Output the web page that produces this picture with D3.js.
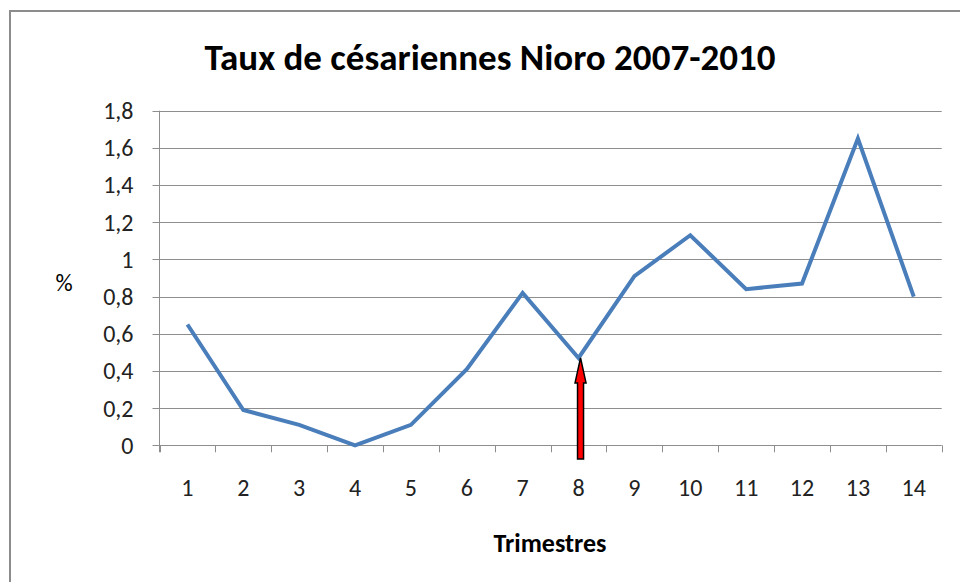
<!DOCTYPE html>
<html><head><meta charset="utf-8">
<script src="https://cdn.jsdelivr.net/npm/d3@7"></script>
<style>body{margin:0;background:#fff;}svg{display:block;}</style>
</head><body>
<svg id="chart" width="960" height="582"></svg>
<script>
const trimestres = [1,2,3,4,5,6,7,8,9,10,11,12,13,14];
const taux = [0.65,0.19,0.11,0.00,0.11,0.41,0.82,0.47,0.91,1.13,0.84,0.87,1.65,0.80];
const yTicks = [0,0.2,0.4,0.6,0.8,1.0,1.2,1.4,1.6,1.8];
const title = "Taux de césariennes Nioro 2007-2010";
const xTitle = "Trimestres";
const yTitle = "%";
const arrowAt = 8;

const FONT = "Carlito, Lato, 'Open Sans', sans-serif";
const svg = d3.select("#chart");
const m = {left:159.5, right:941.7, top:110.7, bottom:445.3};

// outer frame
svg.append("rect").attr("x",10).attr("y",11).attr("width",970).attr("height",600)
  .attr("fill","none").attr("stroke","#8c8c8c").attr("stroke-width",2);

const x = d3.scaleBand().domain(trimestres).range([m.left,m.right]).padding(0);
const y = d3.scaleLinear().domain([0,1.8]).range([m.bottom,m.top]);

// gridlines
svg.append("g").selectAll("line").data(yTicks).join("line")
  .attr("x1",m.left-7).attr("x2",m.right)
  .attr("y1",d=>Math.round(y(d))+0.5).attr("y2",d=>Math.round(y(d))+0.5)
  .attr("stroke","#8e8e8e").attr("stroke-width",1);

// y axis line
svg.append("line").attr("x1",m.left).attr("x2",m.left).attr("y1",m.top).attr("y2",m.bottom+7)
  .attr("stroke","#8e8e8e").attr("stroke-width",1);

// x ticks at category boundaries
const bounds = trimestres.map(d=>x(d)).concat([m.right]);
svg.append("g").selectAll("line").data(bounds).join("line")
  .attr("x1",d=>Math.round(d)+0.5).attr("x2",d=>Math.round(d)+0.5)
  .attr("y1",m.bottom).attr("y2",m.bottom+7)
  .attr("stroke","#8e8e8e").attr("stroke-width",1);

// y labels
const fmt = d => d3.format(".1~f")(d).replace(".",",");
svg.append("g").selectAll("text").data(yTicks).join("text")
  .attr("x",m.left-26).attr("y",d=>y(d)).attr("dy","0.35em")
  .attr("text-anchor","end").attr("font-family",FONT).attr("font-size",24).attr("fill","#222")
  .text(fmt);

// x labels
svg.append("g").selectAll("text").data(trimestres).join("text")
  .attr("x",d=>x(d)+x.bandwidth()/2).attr("y",488).attr("dy","0.35em")
  .attr("text-anchor","middle").attr("font-family",FONT).attr("font-size",24).attr("fill","#222")
  .text(d=>d);

// line
const line = d3.line().x((d,i)=>x(trimestres[i])+x.bandwidth()/2).y(d=>y(d));
svg.append("path").datum(taux).attr("d",line).attr("fill","none")
  .attr("stroke","#4a7ebb").attr("stroke-width",4).attr("stroke-linejoin","miter");

// arrow
const ai = trimestres.indexOf(arrowAt);
const ax = x(arrowAt)+x.bandwidth()/2+2;
const tipY = y(taux[ai]);
const botY = 459;
const sw = 3, hw = 5.5, hh = 25;
const pts = [[ax,tipY],[ax+hw,tipY+hh],[ax+sw,tipY+hh],[ax+sw,botY],[ax-sw,botY],[ax-sw,tipY+hh],[ax-hw,tipY+hh]];
svg.append("polygon").attr("points",pts.map(p=>p.join(",")).join(" "))
  .attr("fill","#ff0000").attr("stroke","#000").attr("stroke-width",1.5).attr("stroke-linejoin","miter");

// titles
svg.append("text").attr("x",490).attr("y",57).attr("dy","0.35em").attr("text-anchor","middle")
  .attr("font-family",FONT).attr("font-weight","bold").attr("font-size",37).attr("fill","#000").text(title);
svg.append("text").attr("x",550).attr("y",543).attr("dy","0.35em").attr("text-anchor","middle")
  .attr("font-family",FONT).attr("font-weight","bold").attr("font-size",26).attr("fill","#000").text(xTitle);
svg.append("text").attr("x",64).attr("y",283).attr("dy","0.35em").attr("text-anchor","middle")
  .attr("font-family",FONT).attr("font-size",24).attr("fill","#000").text(yTitle);
</script>
</body></html>
